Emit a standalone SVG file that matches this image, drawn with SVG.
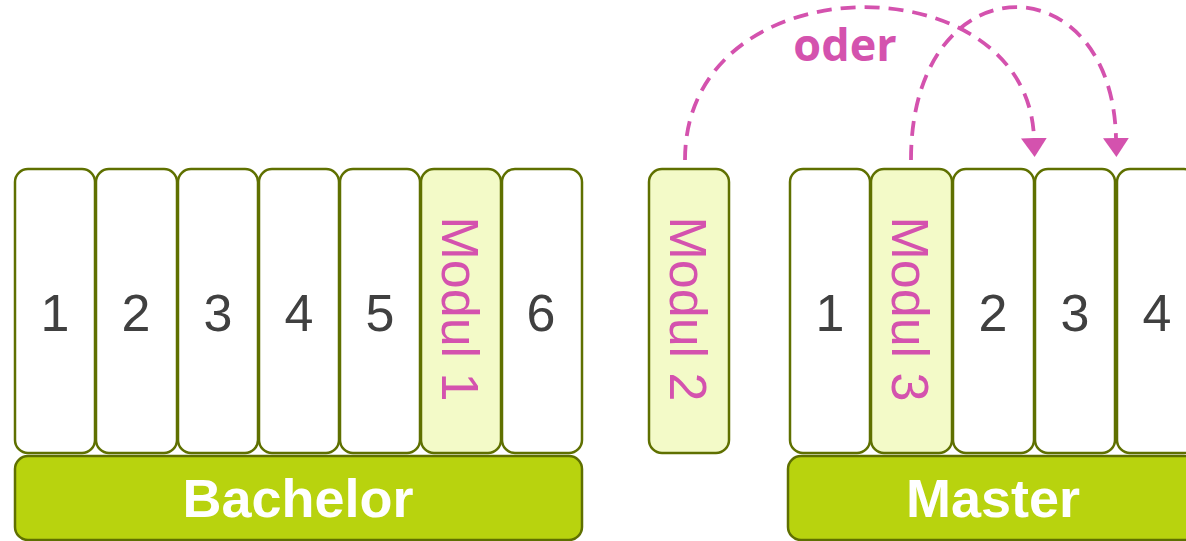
<svg xmlns="http://www.w3.org/2000/svg" width="1186" height="541" viewBox="0 0 1186 541">
<style>
.col{fill:#ffffff;stroke:#5f7000;stroke-width:2.5}
.mod{fill:#f3fac8;stroke:#5f7000;stroke-width:2.5}
.bar{fill:#b8d30e;stroke:#5f7000;stroke-width:2.5}
.num{font-family:"Liberation Sans",Arial,sans-serif;font-size:52px;fill:#404040;text-anchor:middle}
.mt{font-family:"Liberation Sans",Arial,sans-serif;font-size:52px;fill:#d452ae;text-anchor:middle}
.bt{font-family:"Liberation Sans",Arial,sans-serif;font-size:54px;font-weight:bold;fill:#ffffff;text-anchor:middle}
.arc{fill:none;stroke:#d452ae;stroke-width:3.8;stroke-dasharray:15 9}
</style>
<defs>
<marker id="ah" markerUnits="userSpaceOnUse" markerWidth="20" markerHeight="26" refX="0" refY="13" orient="auto" viewBox="0 0 20 26">
<path d="M0,0 L19,13 L0,26 Z" fill="#d452ae"/>
</marker>
</defs>
<g id="bachelor">
<g id="b1"><rect class="col" x="15" y="169" width="80" height="284" rx="13"/><text class="num" x="55" y="331">1</text></g>
<g id="b2"><rect class="col" x="96" y="169" width="81" height="284" rx="13"/><text class="num" x="136" y="331">2</text></g>
<g id="b3"><rect class="col" x="178" y="169" width="80" height="284" rx="13"/><text class="num" x="218" y="331">3</text></g>
<g id="b4"><rect class="col" x="259" y="169" width="80" height="284" rx="13"/><text class="num" x="299" y="331">4</text></g>
<g id="b5"><rect class="col" x="340" y="169" width="80" height="284" rx="13"/><text class="num" x="380" y="331">5</text></g>
<g id="modul1"><rect class="mod" x="421" y="169" width="80" height="284" rx="13"/><text class="mt" transform="translate(442,309) rotate(90)">Modul 1</text></g>
<g id="b6"><rect class="col" x="502" y="169" width="80" height="284" rx="13"/><text class="num" x="541" y="331">6</text></g>
<g id="bachelor-bar"><rect class="bar" x="15" y="456" width="567" height="84" rx="13"/><text class="bt" x="298" y="517">Bachelor</text></g>
</g>
<g id="modul2"><rect class="mod" x="649" y="169" width="80" height="284" rx="13"/><text class="mt" transform="translate(670,309) rotate(90)">Modul 2</text></g>
<g id="master">
<g id="m1"><rect class="col" x="790" y="169" width="80" height="284" rx="13"/><text class="num" x="830" y="331">1</text></g>
<g id="modul3"><rect class="mod" x="871" y="169" width="81" height="284" rx="13"/><text class="mt" transform="translate(892,309) rotate(90)">Modul 3</text></g>
<g id="m2"><rect class="col" x="953" y="169" width="81" height="284" rx="13"/><text class="num" x="993" y="331">2</text></g>
<g id="m3"><rect class="col" x="1035" y="169" width="80" height="284" rx="13"/><text class="num" x="1075" y="331">3</text></g>
<g id="m4"><rect class="col" x="1117" y="169" width="80" height="284" rx="13"/><text class="num" x="1157" y="331">4</text></g>
<g id="master-bar"><rect class="bar" x="788" y="456" width="410" height="84" rx="13"/><text class="bt" x="993" y="517">Master</text></g>
</g>
<g id="connectors">
<path class="arc" d="M685,160 C685,-40 1028,-40 1034,138" marker-end="url(#ah)"/>
<path class="arc" d="M911,160 C911,-40 1112,-40 1116,138" marker-end="url(#ah)"/>
<text x="845" y="61" style="font-family:'Open Sans',sans-serif;font-size:45px;font-weight:bold;fill:#d452ae;text-anchor:middle">oder</text>
</g>
</svg>
